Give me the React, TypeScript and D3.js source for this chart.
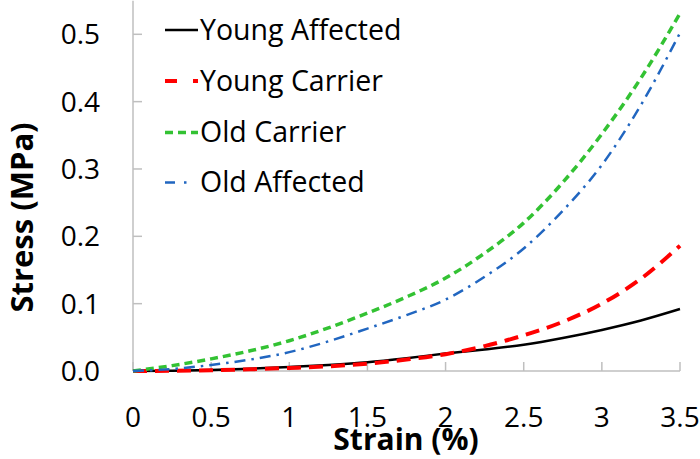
import React from "react";
import * as d3 from "d3";

const strain = [0, 0.25, 0.5, 0.75, 1, 1.25, 1.5, 1.75, 2, 2.25, 2.5, 2.75, 3, 3.25, 3.5];
const youngAffected = [0, 0.0005, 0.0015, 0.0035, 0.006, 0.009, 0.013, 0.019, 0.026, 0.032, 0.039, 0.049, 0.061, 0.075, 0.092];
const youngCarrier = [0, 0.0003, 0.001, 0.0025, 0.0045, 0.007, 0.011, 0.017, 0.025, 0.037, 0.053, 0.073, 0.1, 0.137, 0.186];
const oldCarrier = [0, 0.008, 0.018, 0.03, 0.045, 0.064, 0.086, 0.11, 0.138, 0.175, 0.22, 0.28, 0.352, 0.435, 0.531];
const oldAffected = [0, 0.003, 0.009, 0.017, 0.028, 0.044, 0.063, 0.083, 0.106, 0.14, 0.182, 0.238, 0.306, 0.395, 0.502];

const xTicks = [0, 0.5, 1, 1.5, 2, 2.5, 3, 3.5];
const xTickLabels = ["0", "0.5", "1", "1.5", "2", "2.5", "3", "3.5"];
const yTicks = [0, 0.1, 0.2, 0.3, 0.4, 0.5];
const yTickLabels = ["0.0", "0.1", "0.2", "0.3", "0.4", "0.5"];

const seriesNames = ["Young Affected", "Young Carrier", "Old Carrier", "Old Affected"];
const seriesValues = [youngAffected, youngCarrier, oldCarrier, oldAffected];
const seriesColors = ["#000000", "#ff0000", "#33c233", "#2166c0"];
const seriesWidths = [2.5, 4, 3.5, 2.5];
const seriesDash = ["none", "14,8", "8,5", "11,6,2.5,6"];
const legendDash = ["none", "12,16", "8,5", "10,9,2.5,30"];

const FONT = "'Open Sans', 'DejaVu Sans', sans-serif";

export default function App() {
  const x = d3.scaleLinear().domain([0, 3.5]).range([133, 680]);
  const y = d3.scaleLinear().domain([0, 0.5]).range([371, 34.3]);
  const axisColor = "#bfbfbf";

  const line = (vals: number[]) =>
    d3
      .line<number>()
      .x((_, i) => x(strain[i]))
      .y((v) => y(v))
      .curve(d3.curveMonotoneX)(vals) || "";

  const legendRows = [30, 81, 132.5, 182.5];

  return (
    <svg
      width={700}
      height={459}
      style={{ position: "absolute", left: 0, top: 0, background: "#fff" }}
      fontFamily={FONT}
    >
      <rect x={0} y={0} width={700} height={459} fill="#fff" />
      {/* axes */}
      <line x1={x(0)} x2={x(0)} y1={y(0.55)} y2={y(0)} stroke={axisColor} strokeWidth={1.5} />
      <line x1={x(0)} x2={x(3.5)} y1={y(0)} y2={y(0)} stroke={axisColor} strokeWidth={1.5} />
      {yTicks.map((t, i) => (
        <g key={"yt" + i}>
          <line x1={x(0)} x2={x(0) + 9} y1={y(t)} y2={y(t)} stroke={axisColor} strokeWidth={1.5} />
          <text x={100} y={y(t)} dy="0.36em" textAnchor="end" fontSize={28} fill="#000">
            {yTickLabels[i]}
          </text>
        </g>
      ))}
      {xTicks.map((t, i) => (
        <g key={"xt" + i}>
          <line x1={x(t)} x2={x(t)} y1={y(0)} y2={y(0) - 9} stroke={axisColor} strokeWidth={1.5} />
          <text x={x(t)} y={427} textAnchor="middle" fontSize={28} fill="#000">
            {xTickLabels[i]}
          </text>
        </g>
      ))}
      {/* series */}
      {seriesValues.map((vals, i) => (
        <path
          key={"s" + i}
          d={line(vals)}
          fill="none"
          stroke={seriesColors[i]}
          strokeWidth={seriesWidths[i]}
          strokeDasharray={seriesDash[i]}
        />
      ))}
      {/* axis titles */}
      <text x={406} y={450} textAnchor="middle" fontSize={30} fontWeight="bold" fill="#000">
        Strain (%)
      </text>
      <text
        transform={`translate(33,217.5) rotate(-90)`}
        textAnchor="middle"
        fontSize={31}
        fontWeight="bold"
        fill="#000"
      >
        Stress (MPa)
      </text>
      {/* legend */}
      {seriesNames.map((name, i) => (
        <g key={"lg" + i}>
          <line
            x1={165}
            x2={198}
            y1={legendRows[i]}
            y2={legendRows[i]}
            stroke={seriesColors[i]}
            strokeWidth={seriesWidths[i]}
            strokeDasharray={legendDash[i]}
          />
          <text x={200} y={legendRows[i] + 9.5} fontSize={28.5} fill="#000">
            {name}
          </text>
        </g>
      ))}
    </svg>
  );
}
